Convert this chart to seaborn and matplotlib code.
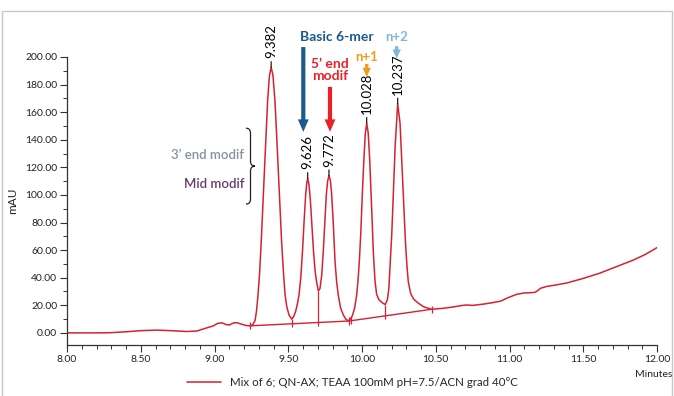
import matplotlib
matplotlib.use('Agg')
import matplotlib.pyplot as plt
import seaborn as sns
import pandas as pd
from matplotlib.patches import Rectangle, PathPatch
from matplotlib.path import Path
from matplotlib.ticker import MultipleLocator, FormatStrFormatter

# ---------------- data ----------------
time = [8.00, 8.10, 8.20, 8.29, 8.40, 8.50, 8.61, 8.70, 8.81, 8.88, 8.92, 8.96, 8.99,
        9.02, 9.05, 9.08, 9.10, 9.13, 9.15, 9.18, 9.21, 9.24,
        9.26, 9.275, 9.285, 9.295, 9.305, 9.315, 9.331, 9.345, 9.36, 9.372, 9.384,
        9.396, 9.41, 9.425, 9.44, 9.455, 9.468, 9.478, 9.49, 9.505, 9.523,
        9.535, 9.55, 9.562, 9.573, 9.585, 9.597, 9.608, 9.618, 9.626, 9.632, 9.64,
        9.65, 9.66, 9.672, 9.682, 9.692, 9.704,
        9.715, 9.727, 9.738, 9.748, 9.758, 9.767, 9.776, 9.785, 9.794, 9.805, 9.817,
        9.828, 9.839, 9.855, 9.873, 9.89, 9.907,
        9.92, 9.935, 9.95, 9.964, 9.973, 9.982, 9.992, 10.002, 10.012, 10.022, 10.032,
        10.042, 10.052, 10.062, 10.07, 10.077, 10.088, 10.099, 10.115, 10.135, 10.158,
        10.172, 10.182, 10.192, 10.202, 10.212, 10.225, 10.242, 10.258, 10.27, 10.28,
        10.295, 10.305, 10.314, 10.33, 10.35, 10.382, 10.42, 10.472,
        10.55, 10.62, 10.68, 10.71, 10.75, 10.82, 10.88, 10.94, 10.99, 11.05, 11.10,
        11.17, 11.19, 11.21, 11.25, 11.32, 11.39, 11.50, 11.61, 11.72, 11.84, 11.92, 12.00]
mau = [0.0, 0.0, 0.0, 0.1, 0.8, 1.6, 2.0, 1.6, 1.0, 1.3, 2.7, 4.0, 5.0,
       6.8, 7.3, 6.0, 5.7, 7.2, 7.4, 6.4, 5.4, 5.1,
       6.0, 9.0, 16.0, 27.5, 42.0, 62.0, 100.0, 135.0, 168.0, 186.0, 192.5,
       187.0, 168.0, 135.0, 100.0, 66.0, 43.0, 28.0, 19.0, 13.0, 10.0,
       11.5, 15.5, 21.0, 27.5, 40.0, 60.0, 82.0, 100.0, 109.0, 112.0, 108.0,
       96.0, 79.0, 58.0, 45.0, 37.0, 30.4,
       32.0, 42.0, 60.0, 80.0, 100.0, 110.0, 114.0, 111.0, 101.0, 80.0, 52.0,
       37.0, 27.5, 18.0, 13.0, 10.0, 8.7,
       9.8, 12.5, 18.0, 27.5, 38.0, 52.0, 73.0, 100.0, 124.0, 144.0, 152.0,
       145.0, 126.0, 100.0, 78.0, 58.0, 38.0, 28.0, 24.0, 22.0, 20.5,
       24.0, 32.0, 51.6, 72.0, 100.0, 136.0, 166.0, 152.0, 124.0, 100.0,
       65.0, 48.0, 37.0, 28.5, 24.5, 21.5, 18.8, 17.1,
       17.8, 18.8, 19.9, 20.2, 19.9, 20.8, 21.8, 23.0, 25.5, 28.0, 28.9,
       29.3, 30.5, 32.3, 33.6, 34.8, 36.2, 39.5, 43.2, 47.8, 52.8, 56.8, 61.8]

# integration baseline and drop lines
base_t = [9.24, 9.912, 10.472]
base_y = [5.1, 8.6, 17.1]
drop_t = [9.523, 9.704, 10.158]
drop_top = [10.0, 30.4, 20.5]
drop_bottom = [4.1, 5.1, 9.9]
mark_t = [9.24, 9.912, 9.928, 10.472]
mark_y = [5.1, 8.6, 8.8, 17.1]

# peak labels
peak_t = [9.384, 9.632, 9.776, 10.032, 10.242]
peak_h = [192.5, 112.0, 114.0, 152.0, 166.0]
peak_lbl = ['9.382', '9.626', '9.772', '10.028', '10.237']

x_ticks = [8.0, 8.5, 9.0, 9.5, 10.0, 10.5, 11.0, 11.5, 12.0]
y_ticks = [0, 20, 40, 60, 80, 100, 120, 140, 160, 180, 200]

legend_label = 'Mix of 6; QN-AX; TEAA 100mM pH=7.5/ACN grad 40°C'
RED = '#d42232'

# ---------------- figure ----------------
sns.set_theme(style='ticks')
plt.rcParams['font.family'] = ['Lato', 'DejaVu Sans']
plt.rcParams['axes.linewidth'] = 0.9

fig = plt.figure(figsize=(6.74, 3.96), dpi=100)
W, H = 674, 396
ax = fig.add_axes([67 / W, 1 - 345 / H, (657 - 67) / W, (345 - 57) / H])

df = pd.DataFrame({'Minutes': time, 'mAU': mau})
sns.lineplot(data=df, x='Minutes', y='mAU', ax=ax, color=RED, lw=1.1,
             estimator=None, sort=False, label=legend_label)

# integration baseline, drops and marks
ax.plot(base_t, base_y, color=RED, lw=1.0)
ax.vlines(drop_t, drop_bottom, drop_top, color=RED, lw=0.9)
ax.vlines(mark_t, [v - 2.6 for v in mark_y], [v + 2.6 for v in mark_y], color=RED, lw=0.9)

ax.set_xlim(8.0, 12.0)
ax.set_ylim(-8.8, 200)
ax.set_xticks(x_ticks)
ax.set_yticks(y_ticks)
ax.xaxis.set_major_formatter(FormatStrFormatter('%.2f'))
ax.yaxis.set_major_formatter(FormatStrFormatter('%.2f'))
ax.xaxis.set_minor_locator(MultipleLocator(0.1))
ax.yaxis.set_minor_locator(MultipleLocator(10))
ax.tick_params(axis='both', which='major', length=5, width=0.8, labelsize=7.5,
               color='#333333', labelcolor='#222222', pad=2)
ax.tick_params(axis='both', which='minor', length=3, width=0.7, color='#333333')
for s in ['left', 'bottom']:
    ax.spines[s].set_color('#333333')
sns.despine(ax=ax)
ax.set_xlabel('')
ax.set_ylabel('mAU', fontsize=8.5, labelpad=5, color='#222222')
ax.text(11.975, -30, 'Minutes', fontsize=7.5, ha='center', va='center',
        color='#222222', clip_on=False)
ax.legend_.remove()

# peak labels with leader lines
for t, h, lbl in zip(peak_t, peak_h, peak_lbl):
    ax.annotate(lbl, xy=(t, h), xytext=(0, 9), textcoords='offset pixels',
                rotation=90, ha='center', va='bottom', fontsize=9.5,
                color='black', annotation_clip=False,
                arrowprops=dict(arrowstyle='-', lw=0.8, color='black',
                                shrinkA=0, shrinkB=0, relpos=(0.5, 0.0)))

# coloured arrows with labels
def arrow(x, y0, y1, color, hw, hl, w):
    ax.annotate('', xy=(x, y1), xytext=(x, y0), annotation_clip=False,
                arrowprops=dict(arrowstyle=f'simple,head_width={hw},head_length={hl},tail_width={w}',
                                color=color, lw=0, shrinkA=0, shrinkB=0))

BLUE = '#1c5a8e'
arrow(9.602, 207.2, 145.7, BLUE, 0.65, 0.75, 0.25)
ax.text(9.826, 214.5, 'Basic 6-mer', color=BLUE, fontsize=10, fontweight='bold',
        ha='center', va='center', clip_on=False)

REDA = '#ea2027'
arrow(9.783, 178.3, 145.7, REDA, 0.65, 0.75, 0.25)
ax.text(9.783, 190.4, '5’ end\nmodif', color=REDA, fontsize=10, fontweight='bold',
        ha='center', va='center', linespacing=0.95, clip_on=False)

ORANGE = '#f29b1d'
arrow(10.032, 195.0, 185.5, ORANGE, 0.5, 0.55, 0.2)
ax.text(10.032, 199.8, 'n+1', color=ORANGE, fontsize=9.5, fontweight='bold',
        ha='center', va='center', clip_on=False)

LBLUE = '#7db7dc'
arrow(10.235, 207.8, 198.8, LBLUE, 0.5, 0.55, 0.2)
ax.text(10.235, 214.5, 'n+2', color=LBLUE, fontsize=9.5, fontweight='bold',
        ha='center', va='center', clip_on=False)

# left annotations with curly brace
ax.text(9.201, 128.8, '3’ end modif', color='#8791a3', fontsize=9.5,
        fontweight='semibold', ha='right', va='center')
ax.text(9.201, 107.8, 'Mid modif', color='#6b3b6c', fontsize=9.5,
        fontweight='semibold', ha='right', va='center')

def px(xp, yp):
    return (8 + (xp - 67) / 147.5, (333 - yp) / 1.3815)

verts = [px(246, 128), px(250.5, 128), px(250.5, 133),
         px(250.5, 161),
         px(250.5, 166), px(255, 166),
         px(250.5, 166), px(250.5, 171),
         px(250.5, 199),
         px(250.5, 204), px(246, 204)]
codes = [Path.MOVETO, Path.CURVE3, Path.CURVE3,
         Path.LINETO,
         Path.CURVE3, Path.CURVE3,
         Path.CURVE3, Path.CURVE3,
         Path.LINETO,
         Path.CURVE3, Path.CURVE3]
ax.add_patch(PathPatch(Path(verts, codes), fill=False, lw=0.9, edgecolor='#222222'))

# legend
handles, labels = ax.get_legend_handles_labels()
fig.legend(handles, labels, loc='center', bbox_to_anchor=(0.523, 0.035),
           frameon=False, handlelength=3.0, fontsize=8.3, handletextpad=0.8)

# outer frame
fig.patches.append(Rectangle((2 / W, -0.05), (672 - 2) / W, 1.05 - 10.5 / H,
                             transform=fig.transFigure, fill=False,
                             edgecolor='#c8c8c8', lw=1.0))

fig.savefig('out.png', dpi=100)
